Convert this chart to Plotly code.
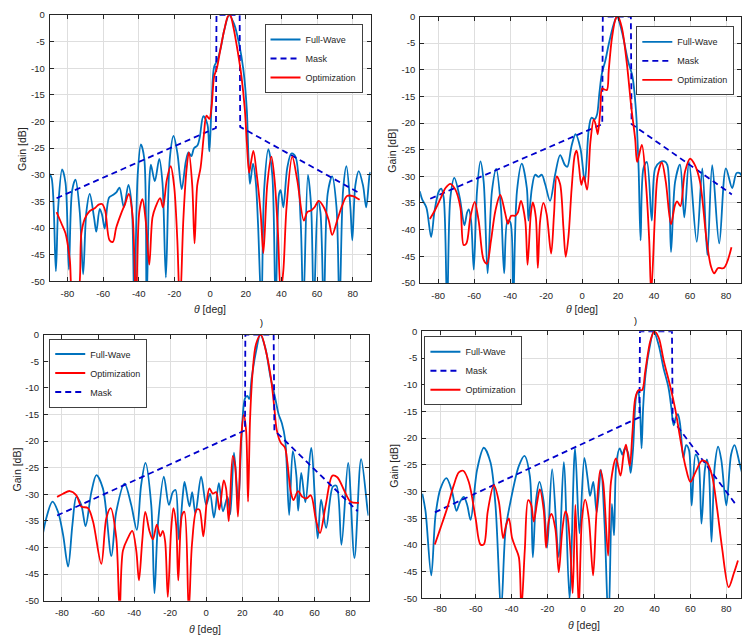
import plotly.graph_objects as go

W, H = 742, 643

# ---------------- data (theta [deg], gain [dB]) ----------------
# Panel A (top-left)
fw_a = [(-90.4,-29.7),(-88.9,-30.6),(-86.5,-48.1),(-85.2,-36.1),(-83,-29),(-81.1,-31.5),(-79.2,-47.8),
        (-77.4,-33),(-75.5,-30.9),(-73.1,-37),(-71.2,-48.7),(-69.4,-37),(-67.5,-33.6),(-65.1,-38),
        (-63.8,-40.7),(-61.9,-36.4),(-60.6,-37.5),(-59.1,-40.1),(-56.7,-34.3),(-54.5,-33.8),(-52.6,-33.3),
        (-50.8,-32.4),(-48.4,-36.1),(-45.8,-31.9),(-43.9,-36),(-42.5,-55),(-40.6,-30),(-38.8,-24.3),
        (-36.9,-27),(-35.6,-55),(-34.1,-31.5),(-33.2,-28.1),(-31,-31.2),(-28.5,-27),(-26.7,-31.5),
        (-24.8,-49.3),(-22.6,-27),(-20.5,-22.7),(-18.3,-26),(-15.9,-32.7),(-13.6,-27.5),(-12.1,-25.8),
        (-10.5,-26.5),(-9,-25),(-7.1,-24.5),(-5.8,-23),(-3.8,-19),(-1.5,-20.5),(-0.4,-25.6),(0.9,-16.4),
        (2.3,-9.7),(4.2,-8.4),(6.1,-6),(7.9,-2.9),(10.7,0),(13.5,-1.7),(16.3,-5.4),(18.7,-10.3),
        (20.6,-17.7),(21.5,-26.3),(22.4,-31.7),(24.1,-27.9),(25.6,-31.2),(26.9,-39.2),(28.8,-55),
        (30.3,-33),(32.7,-25.2),(34.9,-30),(36.8,-55),(38.7,-33.6),(39.6,-32.9),(41.1,-36.1),(43.3,-28.7),
        (45.6,-26),(47.9,-26.6),(50.8,-38.6),(52.3,-55),(54.9,-30),(56.7,-36),(58.2,-55),(60.6,-34.9),
        (61.9,-37),(63.8,-55),(66,-33.5),(68.5,-30.3),(70.9,-36),(72.6,-55),(74.6,-33),(76.5,-28.4),
        (78.7,-36),(79.8,-42.3),(81.5,-32),(83.4,-29.3),(85.8,-32),(87.6,-36.1),(89.5,-30),(90,-29.5)]
opt_a = [(-86.1,-37),(-83.3,-39.2),(-81.1,-41),(-78.7,-45.9),(-76.8,-53),(-74.4,-53),(-72.2,-41),
         (-70.3,-38.3),(-67.5,-36.8),(-64.7,-36.3),(-62.5,-35.6),(-60.6,-35.5),(-58.8,-36.8),(-56.4,-42.3),
         (-54.5,-42.6),(-52.7,-40),(-49.9,-37.3),(-47.7,-35.5),(-45.6,-33.6),(-43.4,-38),(-41.6,-55),
         (-39.7,-37),(-37.9,-34.6),(-36,-39),(-34.1,-46.9),(-32.3,-38),(-30.5,-36),(-28,-34.4),(-26.4,-36.1),
         (-24.3,-31),(-22.1,-28.4),(-20.2,-32),(-18.4,-42),(-16.9,-55),(-15,-38.5),(-13.2,-29),(-11.9,-25.8),
         (-10,-32),(-8.7,-42.9),(-7.2,-32),(-5.3,-28.6),(-3.5,-22.6),(-2,-18.9),(-0.4,-19.5),(0.9,-17),
         (2.3,-11.5),(3.8,-10),(5.7,-6.6),(7.9,-2.9),(10.2,-0.1),(11.3,0),(13.1,-2.3),(15.4,-6.6),
         (17.6,-11.5),(19.5,-17.7),(20.6,-23.8),(21.9,-29.6),(22.8,-28),(24.3,-25.5),(26.2,-30),
         (28.4,-37.3),(29.9,-44.7),(32.1,-31.8),(34.4,-26.6),(36.2,-31),(38.1,-41),(39.6,-52),(41.1,-48),
         (42.9,-36.1),(46.1,-26.6),(48.9,-31),(52.6,-38.6),(54.5,-37),(56.7,-36.7),(58.6,-36.1),(61,-34.9),
         (63.8,-36.1),(66.6,-38.6),(68.5,-41.3),(71.3,-38.6),(74.1,-35.8),(76.8,-34),(80.2,-34),(83.9,-34.7)]
mask_a = [(-86.1,-34.4),(3.3,-21.2),(3.6,0),(16.6,0),(16.9,-21),(83.6,-33.4)]

# Panel B (top-right)
fw_b = [(-90.2,-32.8),(-88.9,-34.3),(-86.5,-35.9),(-83.9,-41.4),(-82,-36.5),(-79.6,-32.8),(-78.3,-32.3),
        (-76.9,-34),(-75,-55),(-73.2,-34),(-71,-30.3),(-68,-34),(-65.4,-39.2),(-63.9,-36.8),(-63,-36.2),
        (-61.7,-38.3),(-60.2,-47.5),(-58.4,-32.8),(-56.5,-27.2),(-54.7,-31),(-52.5,-48.2),(-50.1,-32.8),
        (-47.7,-28.6),(-45.1,-35.9),(-43.3,-48.2),(-41.4,-38.3),(-39.9,-38.6),(-38.4,-55),(-36.2,-32.8),
        (-33.5,-27.6),(-30.7,-32.2),(-29.8,-38.3),(-27.9,-32.2),(-26.1,-29.7),(-24.2,-30.1),(-22.4,-29.7),
        (-20.5,-31.5),(-17.8,-34.6),(-15,-29.7),(-12.2,-26),(-9.5,-27.9),(-8.2,-28.2),(-5.8,-24.2),
        (-3.6,-22.1),(-0.9,-24.8),(1.5,-31),(3.7,-21.2),(5.2,-19),(7,-19.3),(8.3,-18.4),(9.6,-14.4),
        (11,-10.7),(12.9,-8.3),(14.8,-5.2),(17.5,-1.5),(19.4,0),(22.1,-2.8),(25.5,-8.3),(28,-11.3),
        (29.9,-17.5),(31.4,-28.5),(32.5,-42),(34.1,-28.5),(36,-27.3),(38.7,-38.3),(40.6,-28.5),
        (43.4,-27.3),(45.8,-27.2),(47.4,-27.9),(49.4,-44.2),(51.7,-31),(54.4,-27.8),(56.8,-37.7),
        (59.4,-27.3),(63.7,-42.3),(66.8,-28.5),(69.6,-44.8),(72.3,-27.9),(76.2,-42.6),(79.9,-28.5),
        (83.4,-32.2),(85.8,-29.4),(87.6,-29.4),(90,-31)]
opt_b = [(-84.6,-38),(-82,-36.5),(-78.7,-34.2),(-75.9,-32.2),(-73.2,-31.4),(-70.4,-32.5),(-67.6,-35.9),
         (-65.8,-42.9),(-64.3,-42.6),(-62.1,-37.7),(-59.7,-34.8),(-57.5,-38.3),(-54.7,-45.7),(-52.9,-46.4),
         (-50.6,-42),(-48.2,-36.5),(-45.5,-33.5),(-42.7,-37),(-41.2,-38.9),(-39.4,-37.4),(-37.2,-37.4),
         (-35.7,-36.8),(-34,-34.6),(-31.6,-38.3),(-30.3,-46.6),(-28.5,-37.1),(-27.4,-34.9),(-25.7,-37.7),
         (-24.6,-47.2),(-23.3,-38.3),(-21.5,-35),(-19.7,-37.1),(-17.2,-44.5),(-15.6,-37.1),(-14.1,-30),
         (-12.2,-31.5),(-10.4,-39.5),(-9.1,-45.1),(-7.6,-41.4),(-5.8,-32.2),(-4,-25.9),(-3,-25.2),
         (-1.8,-27.9),(-0.4,-31.6),(0.9,-30),(2.8,-32.5),(4.6,-23.6),(6.5,-19.3),(7.7,-20.5),(8.7,-22.1),
         (10.1,-17.5),(11.1,-13.5),(12.4,-13.7),(13.8,-13.8),(14.8,-10.1),(16.6,-4),(18.8,-0.3),(19.9,0),
         (22.1,-2.1),(24.9,-8.9),(27.3,-16.9),(29.5,-23),(30.6,-27.3),(33.2,-24.1),(35.4,-31),(37.3,-42),
         (38.4,-52),(40.6,-36.5),(42,-29.8),(44.3,-27.4),(46.5,-31),(49.4,-39),(51.7,-35.3),(52.8,-34.7),
         (54.6,-35.6),(57.2,-29.1),(60,-26.7),(62.7,-27.9),(65.5,-31),(69.2,-42),(71.6,-46.9),(73.4,-48.2),
         (75.6,-47.2),(78.8,-47.2),(83,-43.3)]
mask_b = [(-84.4,-34.2),(11.2,-20.2),(11.5,0),(27.1,0),(27.5,-20.2),(83.2,-33.4)]

# Panel C (bottom-left)
fw_c = [(-90.5,-37.3),(-88.7,-34.5),(-85.3,-31.4),(-82.2,-33.3),(-79.4,-37.6),(-76.6,-43.6),(-74.2,-35.7),
        (-72,-30.5),(-69.3,-32),(-66.9,-36),(-63.7,-29.6),(-60.9,-26.4),(-57.3,-28.9),(-52.6,-41.6),
        (-49.9,-33.3),(-45.3,-28),(-41.6,-32),(-38.5,-36.7),(-36.1,-28.3),(-33.7,-24.1),(-30.5,-32),
        (-28.7,-48.6),(-26.8,-35.7),(-23.5,-26.7),(-20.7,-32),(-18.5,-29.6),(-17,-29.2),(-15.2,-38.5),
        (-13,-30.2),(-12,-27.7),(-9.3,-32.3),(-7.8,-29.6),(-6,-33.6),(-2.8,-26.7),(0,-32),(2.1,-29.9),
        (4.3,-34.4),(7,-27.9),(9.3,-33.2),(11.8,-30.5),(13.3,-33.8),(15.4,-22.2),(17.8,-31.5),(19.6,-19),
        (21.5,-12),(22.8,-11.5),(23.9,-12.1),(25.2,-8.2),(27.6,-3.2),(30,0),(32.7,-2.4),(35.7,-8.1),
        (38.3,-12),(40.1,-14.9),(42,-16.7),(43.8,-19.8),(46,-33.9),(48,-21.9),(50,-26.5),(51,-33.1),
        (52.7,-26),(55,-31.5),(58.2,-21.3),(61.8,-38.3),(63.7,-31),(66.5,-36.3),(70.2,-28.6),(72.2,-28.4),
        (75,-39.5),(78.7,-24.1),(82.2,-42),(85.9,-23.4),(89.5,-33),(90,-34)]
opt_c = [(-82.7,-30.5),(-79.4,-29.9),(-75.7,-29.4),(-72,-30.2),(-69.3,-32.3),(-65.6,-32.6),(-62.8,-35.1),
         (-58.2,-43.1),(-55.4,-34.5),(-53,-32.6),(-49.9,-38.2),(-48,-52),(-46.2,-40.6),(-43.4,-38.2),
         (-41,-36.9),(-38.8,-40.6),(-37.3,-46.2),(-35.5,-38.8),(-33.8,-33.3),(-31.5,-36.9),(-29.6,-38.5),
         (-27.4,-35.7),(-25.5,-37.9),(-24.1,-36.9),(-22.8,-38.8),(-21.3,-49.3),(-19.5,-36.9),(-18.2,-32.6),
         (-16.7,-35.7),(-15.5,-46.2),(-13.4,-33.9),(-12.1,-33.3),(-9.7,-52),(-7.9,-39.4),(-5.3,-32.9),
         (-3.8,-32.9),(-1.6,-37.9),(0.3,-31.4),(1.8,-28.9),(3.6,-29.9),(5.5,-29.6),(7.3,-32.9),(9.7,-27.4),
         (11,-28.9),(12.5,-35.1),(14.7,-22.8),(16,-24.6),(17.6,-34.2),(19.3,-19.7),(20.8,-15.1),(22.1,-17.9),
         (23.2,-31.4),(24.3,-16),(25.8,-6.8),(27.6,-1.8),(30.3,0),(33.1,-3.1),(35.8,-8),(37.7,-13.5),
         (39.1,-17.9),(41.3,-20.3),(43.6,-21.2),(45,-24),(46.9,-29.6),(48.4,-31.1),(50.9,-29.4),(53.3,-30.5),
         (55.5,-30.8),(58,-30.2),(60.7,-34.5),(63.1,-37.3),(66.3,-32),(70,-26.5),(72.7,-26.8),(76.4,-29.2),
         (80.1,-31.4),(84.7,-31.6)]
mask_c = [(-82.7,-34),(21.5,-18),(21.7,0),(37.4,0),(37.8,-18),(84,-33.2)]

# Panel D (bottom-right)
fw_d = [(-89.9,-30.4),(-88.1,-33.7),(-84.9,-45.7),(-82.5,-34.4),(-79.7,-29.4),(-76.4,-27.5),(-73.2,-30.1),
        (-70.8,-33.6),(-68.9,-32),(-66.7,-31),(-64.8,-32.5),(-62.9,-35.3),(-59.2,-25.8),(-55.5,-21.8),
        (-51.8,-24.5),(-49,-32.5),(-45.8,-52),(-43.4,-37.4),(-40.6,-31.9),(-35.9,-25.2),(-32.8,-23.3),
        (-29.8,-27),(-28.1,-42.3),(-26.3,-31.6),(-24.4,-28.2),(-22,-32),(-20.1,-40.5),(-17.3,-25.8),
        (-13.6,-42.3),(-10.8,-24.5),(-7.6,-50),(-4.5,-21.9),(-2,-37.8),(0.7,-23.7),(2.6,-27.7),(3.9,-30.8),
        (5.7,-28.2),(7.6,-33.9),(10,-25.9),(12,-36),(14.2,-55),(16.1,-32.3),(17.3,-38.2),(18.6,-24.7),
        (20.5,-21.9),(22,-23.1),(23.4,-21.9),(25.1,-22.7),(26.6,-26.5),(27.9,-22.2),(29.7,-12.1),
        (30.8,-11.2),(31.7,-13.6),(32.7,-21.9),(33.6,-14.2),(34.9,-8.1),(37.1,-3.2),(39.5,0),(42.3,-2.6),
        (45,-6.9),(47.8,-10.6),(49.3,-14.2),(50.6,-17.6),(51.8,-16.2),(53,-15.5),(54.2,-17.3),(56.1,-23.7),
        (57.6,-21.3),(59.2,-22.2),(60.7,-32.6),(62.9,-23.1),(64.4,-24),(66.2,-36),(68.1,-25.9),(69.2,-24),
        (70.3,-25.9),(71.8,-39.4),(73.6,-25.3),(75.5,-21.6),(77.3,-24.1),(80.1,-32.6),(82.8,-23),
        (84.7,-21.3),(87.5,-24.7),(90,-28)]
opt_d = [(-82.9,-39.9),(-79.7,-36.8),(-76,-33.1),(-72.3,-28.8),(-69.5,-26.4),(-67,-26.1),(-63.9,-28.2),
         (-60.1,-35),(-57.4,-39.9),(-55.5,-39.9),(-53.3,-33.7),(-49.9,-28.8),(-47.1,-31.9),(-44.7,-38.7),
         (-43,-36.2),(-41.5,-35),(-39.7,-38.7),(-37.8,-40.5),(-35.9,-42.3),(-34.5,-52),(-32.6,-41),
         (-30.7,-31.6),(-29,-32.5),(-27.6,-35.6),(-25.7,-32),(-24.2,-29.6),(-22,-33.5),(-20.7,-40.5),
         (-19.2,-35.5),(-17.7,-34.2),(-15.5,-37),(-13.6,-45.1),(-11.7,-37.5),(-9.9,-33.7),(-8.9,-34.4),
         (-7.1,-41),(-5.8,-49),(-4.3,-32.5),(-2.4,-52),(-0.6,-35),(1.2,-31.5),(3.2,-35),(5.6,-45.7),
         (7.4,-34.5),(9.6,-26),(11.2,-28.2),(14,-42),(15.6,-28.2),(18.4,-23.8),(20.9,-27),(22.7,-23),
         (24,-21.2),(26.1,-25.2),(27.6,-19),(29.2,-12.5),(31.1,-11),(33,-11),(34.8,-7.4),(37.6,-1.8),
         (39.9,0),(42.3,-1.2),(45.1,-5.5),(48.8,-10.4),(51.6,-14.7),(54.4,-20.2),(57.2,-25.2),(60,-28.2),
         (62.8,-26.4),(66.5,-24.2),(69.3,-24.6),(72.1,-27),(74.9,-33.1),(77.7,-40.5),(81.4,-47.9),
         (84.2,-45.4),(86.6,-42.9)]
mask_d = [(-82.9,-33.9),(31.5,-16.1),(31.8,0),(49.7,0),(50.1,-16.6),(85.8,-32.6)]

x_ticks = [-80, -60, -40, -20, 0, 20, 40, 60, 80]
y_ticks = [0, -5, -10, -15, -20, -25, -30, -35, -40, -45, -50]
x_tick_text = [str(v) for v in x_ticks]
y_tick_text = [str(v) for v in y_ticks]

# ---------------- styling ----------------
FONT = "Liberation Sans, Arial, Helvetica, sans-serif"
TXT = "#262626"
styles = {
    "fw":   dict(name="Full-Wave",    color="#0072BD", dash="solid",   shape="spline", width=1.8),
    "mask": dict(name="Mask",         color="#0000CC", dash="6px,4px", shape="linear", width=1.8),
    "opt":  dict(name="Optimization", color="#FF0000", dash="solid",   shape="spline", width=1.8),
}

def px_x(v):
    return v / W

def px_y(v):
    return 1 - v / H

panels = [
    dict(data={"fw": fw_a, "mask": mask_a, "opt": opt_a}, order=["fw", "mask", "opt"],
         dx=[px_x(49.7), px_x(371)], dy=[px_y(280), px_y(9.3)], xr=[-90, 90], stand=3,
         leg=dict(x=px_x(363), y=px_y(18.3), xanchor="right"),
         ylab=(21.5, 145), xlab=(210.5, 308)),
    dict(data={"fw": fw_b, "mask": mask_b, "opt": opt_b}, order=["fw", "mask", "opt"],
         dx=[px_x(420.7), 1.0], dy=[px_y(281.7), px_y(10.7)], xr=[-90, 88.3], stand=4,
         leg=dict(x=px_x(735.3), y=px_y(20.7), xanchor="right"),
         ylab=(392.7, 147), xlab=(583, 308)),
    dict(data={"fw": fw_c, "mask": mask_c, "opt": opt_c}, order=["fw", "opt", "mask"],
         dx=[px_x(44), px_x(369)], dy=[px_y(605), px_y(334.3)], xr=[-90, 90], stand=3,
         leg=dict(x=px_x(49.3), y=px_y(338.3), xanchor="left"),
         ylab=(16.5, 471), xlab=(205, 634)),
    dict(data={"fw": fw_d, "mask": mask_d, "opt": opt_d}, order=["fw", "mask", "opt"],
         dx=[px_x(422.7), 1.0], dy=[px_y(602.7), px_y(331)], xr=[-90, 88.3], stand=1,
         leg=dict(x=px_x(425), y=px_y(336), xanchor="left"),
         ylab=(394.3, 468), xlab=(584.5, 629.5)),
]

fig = go.Figure()
layout = dict(width=W, height=H, margin=dict(l=0, r=0, t=0, b=0, pad=0),
              paper_bgcolor="white", plot_bgcolor="white", showlegend=True)
annotations = []

axis_common = dict(showline=True, linecolor=TXT, linewidth=1, mirror="ticks", ticks="inside",
                   ticklen=4, tickcolor=TXT, tickwidth=1, showgrid=True, gridcolor="#DEDEDE",
                   gridwidth=1, zeroline=False,
                   tickfont=dict(family=FONT, size=9.5, color=TXT))

for i, p in enumerate(panels):
    sfx = "" if i == 0 else str(i + 1)
    leg_name = "legend" + sfx
    for key in p["order"]:
        st = styles[key]
        pts = p["data"][key]
        fig.add_trace(go.Scatter(
            x=[q[0] for q in pts], y=[q[1] for q in pts], mode="lines", name=st["name"],
            line=dict(color=st["color"], width=st["width"], dash=st["dash"], shape=st["shape"],
                      smoothing=0.9),
            xaxis="x" + sfx, yaxis="y" + sfx, legend=leg_name, hoverinfo="skip"))
    layout["xaxis" + sfx] = dict(axis_common, domain=p["dx"], range=p["xr"], anchor="y" + sfx,
                                 tickvals=x_ticks, ticktext=x_tick_text, ticklabelstandoff=p["stand"])
    layout["yaxis" + sfx] = dict(axis_common, domain=p["dy"], range=[-50, 0], anchor="x" + sfx,
                                 tickvals=y_ticks, ticktext=y_tick_text, ticklabelstandoff=2)
    layout[leg_name] = dict(x=p["leg"]["x"], y=p["leg"]["y"], xanchor=p["leg"]["xanchor"], yanchor="top",
                            bgcolor="white", bordercolor="#404040", borderwidth=1,
                            font=dict(family=FONT, size=9, color=TXT), itemwidth=30,
                            tracegroupgap=0, traceorder="normal")
    annotations.append(dict(x=px_x(p["ylab"][0]), y=px_y(p["ylab"][1]), xref="paper", yref="paper",
                            text="Gain [dB]", textangle=-90, showarrow=False,
                            font=dict(family=FONT, size=10.5, color=TXT), xanchor="center", yanchor="middle"))
    annotations.append(dict(x=px_x(p["xlab"][0]), y=px_y(p["xlab"][1]), xref="paper", yref="paper",
                            text="<i>θ</i> [deg]", showarrow=False,
                            font=dict(family=FONT, size=10.5, color=TXT), xanchor="center", yanchor="middle"))

# cropped caption fragments visible in the source image
annotations.append(dict(x=px_x(262), y=px_y(323), xref="paper", yref="paper", text=")", showarrow=False,
                        font=dict(family=FONT, size=9, color="black")))
annotations.append(dict(x=px_x(640), y=px_y(320), xref="paper", yref="paper", text=")", showarrow=False,
                        font=dict(family=FONT, size=9, color="black")))

layout["annotations"] = annotations
fig.update_layout(**layout)
fig.write_html("out.html")
